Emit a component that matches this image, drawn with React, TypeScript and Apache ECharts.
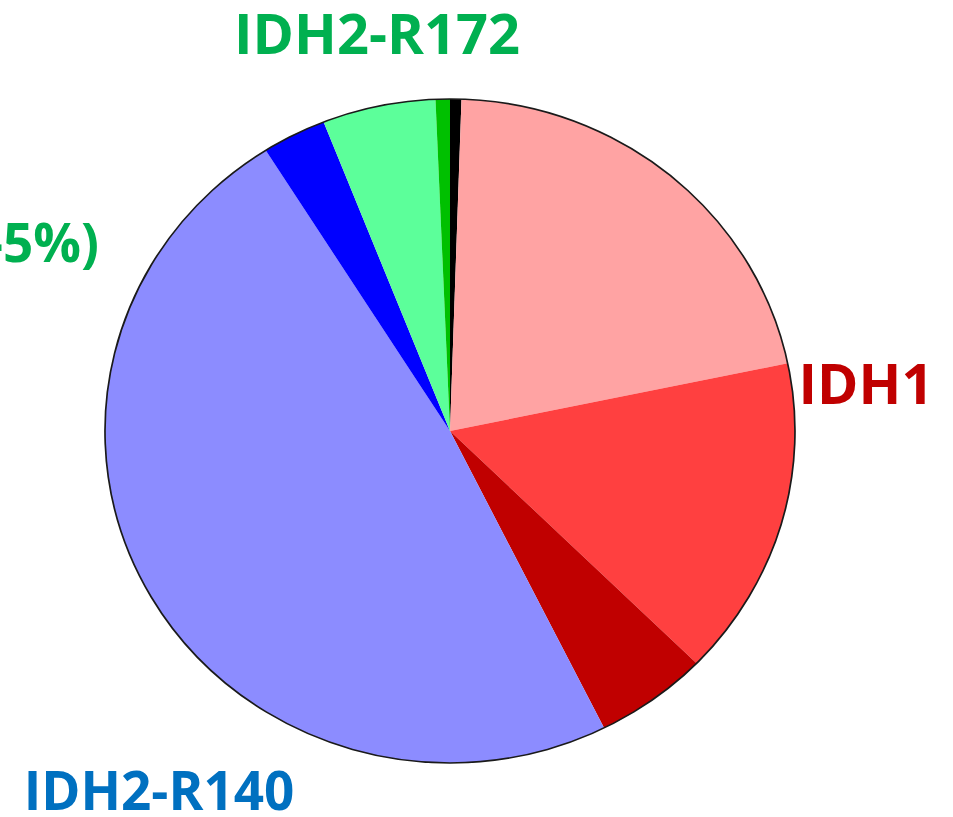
import React, { useEffect, useRef } from "react";
import * as echarts from "echarts";

const sliceNames = ["IDH2-R172 other", "IDH1 a", "IDH1 b", "IDH1 c", "IDH2-R140 a", "IDH2-R140 b", "IDH2-R172 a", "IDH2-R172 b"];
const sliceValues = [0.53, 21.2, 15.6, 5.3, 48.4, 3.0, 5.3, 0.67];
const sliceColors = ["#000000", "#FFA3A3", "#FF4040", "#C00000", "#8C8CFF", "#0000FF", "#5CFF9A", "#00C000"];

const labelTexts = ["IDH2-R172", "IDH1", "IDH2-R140", "-5%)"];
const labelColors = ["#00B050", "#C00000", "#0070C0", "#00B050"];

const SQUASH = 0.9623;

export default function App() {
  const pieRef = useRef<HTMLDivElement>(null);
  const textRef = useRef<HTMLDivElement>(null);
  useEffect(() => {
    document.body.style.margin = "0";
    const pie = echarts.init(pieRef.current!, null, { renderer: "svg" });
    const txt = echarts.init(textRef.current!, null, { renderer: "svg" });
    const font = "'Open Sans', 'Noto Sans', sans-serif";
    const center = [450, 431 / SQUASH];
    pie.setOption({
      animation: false,
      series: [
        {
          type: "pie",
          center,
          radius: 345,
          startAngle: 90,
          clockwise: true,
          silent: true,
          label: { show: false },
          labelLine: { show: false },
          itemStyle: { borderWidth: 0 },
          data: sliceValues.map((v, i) => ({
            name: sliceNames[i],
            value: v,
            itemStyle: { color: sliceColors[i] },
          })),
        },
        {
          type: "pie",
          center,
          radius: 345,
          silent: true,
          label: { show: false },
          labelLine: { show: false },
          itemStyle: { color: "rgba(0,0,0,0)", borderColor: "#1a1a1a", borderWidth: 1.7 },
          data: [{ name: "outline", value: 1 }],
        },
      ],
    });
    const mk = (i: number, x: number, y: number, align: string, size: number) => ({
      type: "text",
      x,
      y,
      silent: true,
      style: {
        text: labelTexts[i],
        fill: labelColors[i],
        font: `bold ${size}px ${font}`,
        lineHeight: Math.round(size * 0.8),
        textAlign: align,
        textVerticalAlign: "middle",
      },
    });
    txt.setOption({
      animation: false,
      graphic: [
        mk(0, 377, 32, "center", 56),
        mk(1, 866, 382, "center", 56),
        mk(2, 159, 789, "center", 53),
        mk(3, -14, 241, "left", 53),
      ],
    });
    return () => {
      pie.dispose();
      txt.dispose();
    };
  }, []);
  return (
    <div style={{ position: "relative", width: 953, height: 817, background: "#ffffff", overflow: "hidden" }}>
      <div
        ref={pieRef}
        style={{
          position: "absolute",
          left: 0,
          top: 0,
          width: 953,
          height: Math.ceil(817 / SQUASH),
          transform: `scaleY(${SQUASH})`,
          transformOrigin: "0 0",
        }}
      />
      <div ref={textRef} style={{ position: "absolute", left: 0, top: 0, width: 953, height: 817 }} />
    </div>
  );
}
